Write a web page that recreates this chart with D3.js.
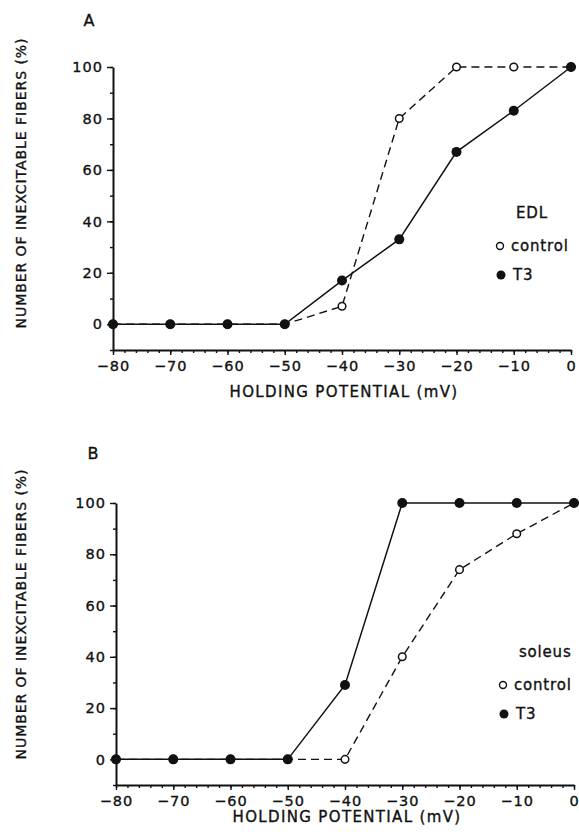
<!DOCTYPE html>
<html>
<head>
<meta charset="utf-8">
<script src="https://cdn.jsdelivr.net/npm/d3@7/dist/d3.min.js"></script>
<style>
  html, body { margin: 0; padding: 0; background: #fff; }
  svg { display: block; }
  text { font-family: "DejaVu Sans", Arial, sans-serif; fill: #111; stroke: #111; stroke-width: 0.35px; }
</style>
</head>
<body>
<svg id="fig" width="579" height="835"></svg>
<script>
// Holding potentials (mV) shared by both panels
const potentials = [-80, -70, -60, -50, -40, -30, -20, -10, 0];

// Panel A: EDL, % inexcitable fibres
const edlControl = [0, 0, 0, 0, 7, 80, 100, 100, 100];
const edlT3      = [0, 0, 0, 0, 17, 33, 67, 83, 100];

// Panel B: soleus, % inexcitable fibres
const soleusControl = [0, 0, 0, 0, 0, 40, 74, 88, 100];
const soleusT3      = [0, 0, 0, 0, 29, 100, 100, 100, 100];

const xTicks = [-80, -70, -60, -50, -40, -30, -20, -10, 0];
const yTicks = [0, 20, 40, 60, 80, 100];
const xMinorTicks = d3.range(-80, 0.1, 2);
const yMinorTicks = d3.range(-10, 100.1, 10);

const svg = d3.select("#fig");

function panel(opts) {
  const g = svg.append("g");
  const x = d3.scaleLinear().domain([-80, 0]).range([opts.left, opts.right]);
  const y = d3.scaleLinear().domain([-10, 100]).range([opts.bottom, opts.top]);

  // panel letter
  g.append("text").attr("x", opts.letterX).attr("y", opts.letterY)
    .attr("text-anchor", "middle").attr("dominant-baseline", "central")
    .style("font-size", "16px").text(opts.letter);

  // y axis: minor ticks first, then labelled ticks
  const yMinor = d3.axisLeft(y).tickValues(yMinorTicks).tickSize(3).tickFormat("");
  g.append("g").attr("transform", `translate(${opts.left},0)`).call(yMinor)
    .call(s => s.select(".domain").remove());
  const yAxis = d3.axisLeft(y).tickValues(yTicks).tickSize(6).tickPadding(4).tickSizeOuter(0);
  const ya = g.append("g").attr("transform", `translate(${opts.left},0)`).call(yAxis);
  ya.select(".domain").attr("stroke-width", 2);

  // x axis
  const xMinor = d3.axisBottom(x).tickValues(xMinorTicks).tickSize(3).tickFormat("");
  g.append("g").attr("transform", `translate(0,${opts.bottom})`).call(xMinor)
    .call(s => s.select(".domain").remove());
  const xAxis = d3.axisBottom(x).tickValues(xTicks).tickSize(5).tickPadding(6).tickSizeOuter(0)
    .tickFormat(d => d === 0 ? "0" : "\u2212" + Math.abs(d));
  const xa = g.append("g").attr("transform", `translate(0,${opts.bottom})`).call(xAxis);
  xa.select(".domain").attr("stroke-width", 2);

  g.selectAll(".tick line").attr("stroke", "#111").attr("stroke-width", 1.4);
  g.selectAll(".domain").attr("stroke", "#111");
  g.selectAll(".tick text").style("font-size", "14.5px").style("letter-spacing", "1px")
    .attr("fill", "#111").style("font-family", "DejaVu Sans, Arial, sans-serif");

  // axis titles
  g.append("text").attr("x", (opts.left + opts.right) / 2 + 2).attr("y", opts.xTitleY)
    .attr("text-anchor", "middle").attr("dominant-baseline", "central")
    .style("font-size", "15px").style("letter-spacing", "1.35px")
    .text("HOLDING POTENTIAL (mV)");
  g.append("text")
    .attr("transform", `translate(${opts.yTitleX},${opts.yTitleY}) rotate(-90)`)
    .attr("text-anchor", "middle").attr("dominant-baseline", "central")
    .style("font-size", "14px").style("letter-spacing", "0.95px")
    .text("NUMBER OF INEXCITABLE FIBERS (%)");

  const line = d3.line().x(d => x(d[0])).y(d => y(d[1]));
  const ctrl = potentials.map((p, i) => [p, opts.control[i]]);
  const t3 = potentials.map((p, i) => [p, opts.t3[i]]);

  g.append("path").datum(ctrl).attr("d", line).attr("fill", "none")
    .attr("stroke", "#111").attr("stroke-width", 1.4).attr("stroke-dasharray", "8,5");
  g.append("path").datum(t3).attr("d", line).attr("fill", "none")
    .attr("stroke", "#111").attr("stroke-width", 1.5);

  g.selectAll(".ctrl").data(ctrl).join("circle").attr("class", "ctrl")
    .attr("cx", d => x(d[0])).attr("cy", d => y(d[1])).attr("r", 3.8)
    .attr("fill", "#fff").attr("stroke", "#111").attr("stroke-width", 1.5);
  g.selectAll(".t3").data(t3).join("circle").attr("class", "t3")
    .attr("cx", d => x(d[0])).attr("cy", d => y(d[1])).attr("r", 5)
    .attr("fill", "#111");

  // legend
  const L = opts.legend;
  g.append("text").attr("x", L.x + 16).attr("y", L.y)
    .attr("dominant-baseline", "central").style("font-size", "15px")
    .style("letter-spacing", "0.8px").text(opts.muscle);
  g.append("circle").attr("cx", L.x).attr("cy", L.y + 33).attr("r", 3.5)
    .attr("fill", "#fff").attr("stroke", "#111").attr("stroke-width", 1.4);
  g.append("text").attr("x", L.x + 11).attr("y", L.y + 33)
    .attr("dominant-baseline", "central").style("font-size", "15px")
    .style("letter-spacing", "0.8px").text("control");
  g.append("circle").attr("cx", L.x + 1).attr("cy", L.y + 62).attr("r", 4.5)
    .attr("fill", "#111");
  g.append("text").attr("x", L.x + 13).attr("y", L.y + 62)
    .attr("dominant-baseline", "central").style("font-size", "15px")
    .style("letter-spacing", "0.8px").text("T3");
}

panel({
  letter: "A", letterX: 89, letterY: 20,
  left: 113, right: 571, top: 67, bottom: 350,
  xTitleY: 392, yTitleX: 21, yTitleY: 183,
  control: edlControl, t3: edlT3, muscle: "EDL",
  legend: { x: 500, y: 213 }
});

panel({
  letter: "B", letterX: 93, letterY: 453,
  left: 116, right: 574, top: 503, bottom: 785,
  xTitleY: 817, yTitleX: 21, yTitleY: 614,
  control: soleusControl, t3: soleusT3, muscle: "soleus",
  legend: { x: 503, y: 652 }
});
</script>
</body>
</html>
